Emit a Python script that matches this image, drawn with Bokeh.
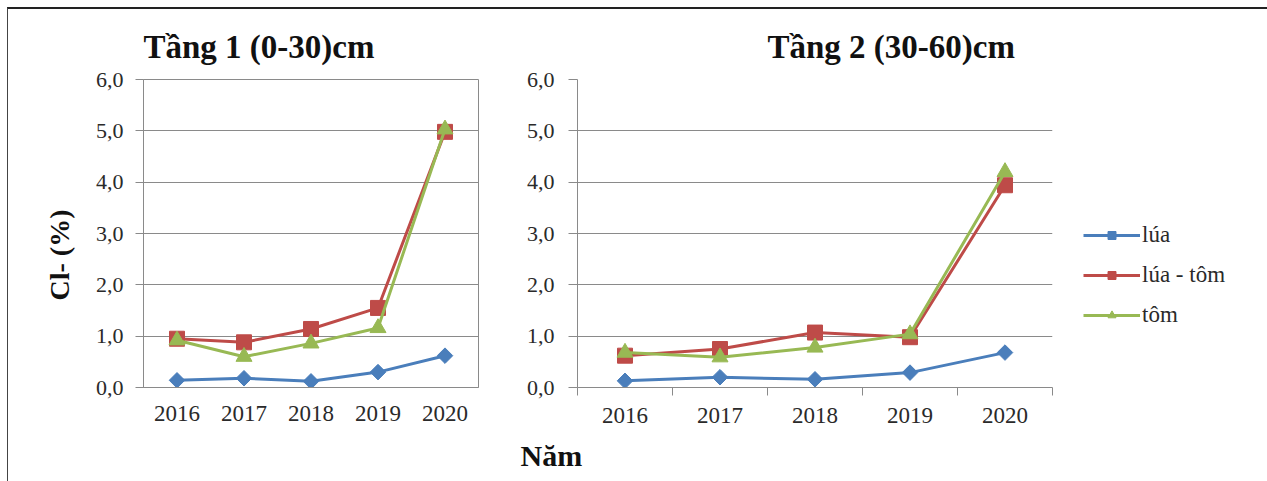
import math
from bokeh.plotting import figure
from bokeh.layouts import row
from bokeh.models import FixedTicker, Legend, LegendItem, Title
from bokeh.embed import file_html
from bokeh.resources import INLINE

years = ["2016", "2017", "2018", "2019", "2020"]
series_names = ["lúa", "lúa - tôm", "tôm"]

layer1_lua = [0.14, 0.18, 0.12, 0.30, 0.62]
layer1_lua_tom = [0.95, 0.88, 1.14, 1.55, 4.98]
layer1_tom = [0.92, 0.60, 0.86, 1.16, 5.03]

layer2_lua = [0.13, 0.20, 0.16, 0.29, 0.68]
layer2_lua_tom = [0.62, 0.75, 1.07, 0.98, 3.94]
layer2_tom = [0.68, 0.59, 0.78, 1.04, 4.20]

y_ticks = [0, 1, 2, 3, 4, 5, 6]
y_tick_labels = {t: f"{t},0" for t in y_ticks}

titles = ["Tầng 1 (0-30)cm", "Tầng 2 (30-60)cm"]
y_label = "Cl- (%)"
x_label = "Năm"

colors = ["#4A7EBB", "#BE4B48", "#98B954"]
markers = ["square", "square", "triangle"]
angles = [math.pi / 4, 0, 0]
sizes = [11, 15, 16]

SERIF = "'Liberation Serif', 'Times New Roman', serif"
TXT = "#2a2a2a"
GRID = "#8a8a8a"

xs = list(range(len(years)))


def make_fig(width, left, right, top, bottom, frame_h, frame_w):
    p = figure(width=width, height=top + frame_h + bottom,
               x_range=(-0.5, 4.5), y_range=(0, 6),
               output_backend="svg", toolbar_location=None,
               min_border_left=left, min_border_right=right,
               min_border_top=top, min_border_bottom=bottom,
               frame_width=frame_w, frame_height=frame_h)
    p.background_fill_color = "white"
    p.border_fill_color = "white"
    p.xgrid.grid_line_color = None
    p.ygrid.grid_line_color = GRID
    p.ygrid.grid_line_width = 1
    p.yaxis.ticker = FixedTicker(ticks=y_ticks)
    p.yaxis.major_label_overrides = y_tick_labels
    p.yaxis.minor_tick_line_color = None
    p.yaxis.major_tick_in = 0
    p.yaxis.major_tick_line_color = GRID
    p.yaxis.axis_line_color = GRID
    p.yaxis.major_label_text_font_size = "22px"
    p.xaxis.major_label_text_font_size = "23px"
    for ax in (p.xaxis, p.yaxis):
        ax.major_label_text_font = SERIF
        ax.major_label_text_color = TXT
    p.xaxis.major_label_overrides = {i: y for i, y in enumerate(years)}
    p.xaxis.axis_line_color = GRID
    return p


def draw(p, data):
    renderers = []
    for vals, c, m, a, s in zip(data, colors, markers, angles, sizes):
        l = p.line(xs, vals, line_color=c, line_width=3)
        sc = p.scatter(xs, vals, marker=m, angle=a, size=s,
                       fill_color=c, line_color=c)
        renderers.append([l, sc])
    return renderers


def add_title(p, text, offset, place="above", size="33px", standoff=10):
    p.add_layout(Title(text=text, align="left", offset=offset,
                       text_font=SERIF, text_font_style="bold",
                       text_font_size=size, text_color="#111111",
                       standoff=standoff), place)


# Left panel: frame 143..478, 79..387
p1 = make_fig(512, 135, 42, 70, 94, 308, 335)
p1.outline_line_color = GRID
p1.xaxis.ticker = FixedTicker(ticks=xs)
p1.xaxis.major_tick_line_color = None
p1.xaxis.minor_tick_line_color = None
p1.xaxis.major_label_standoff = 12
p1.yaxis.major_tick_out = 8
p1.yaxis.major_label_standoff = 12
draw(p1, [layer1_lua, layer1_lua_tom, layer1_tom])
add_title(p1, titles[0], 0, standoff=30)
add_title(p1, y_label, 87, place="left", size="28px", standoff=36)

# Right panel: frame 577..1052, 79..387
p2 = make_fig(739, 57, 207, 70, 94, 308, 475)
p2.outline_line_color = None
p2.xaxis.ticker = FixedTicker(ticks=xs, minor_ticks=[-0.5, 0.5, 1.5, 2.5, 3.5, 4.5])
p2.xaxis.major_tick_out = 0
p2.xaxis.major_tick_in = 0
p2.xaxis.minor_tick_out = 8
p2.xaxis.minor_tick_in = 0
p2.xaxis.minor_tick_line_color = GRID
p2.xaxis.major_label_standoff = 12
p2.yaxis.major_tick_out = 9
p2.yaxis.major_label_standoff = 14
rs = draw(p2, [layer2_lua, layer2_lua_tom, layer2_tom])
add_title(p2, titles[1], 190, standoff=30)
add_title(p2, x_label, -57, place="below", size="30px", standoff=23)

legend = Legend(items=[LegendItem(label=n, renderers=r) for n, r in zip(series_names, rs)],
                location=(31, 59), padding=0, margin=0,
                glyph_width=57, glyph_height=20, label_height=20,
                spacing=14, label_standoff=2,
                label_text_font=SERIF, label_text_font_size="23px",
                label_text_color=TXT,
                border_line_alpha=0, background_fill_alpha=0)
p2.add_layout(legend, "right")

layout = row(p1, p2, styles={"margin-top": "7px", "margin-left": "7px",
                             "border-top": "2px solid #222222",
                             "border-left": "1px solid #444444"})

open("out.html", "w").write(file_html(layout, INLINE))
